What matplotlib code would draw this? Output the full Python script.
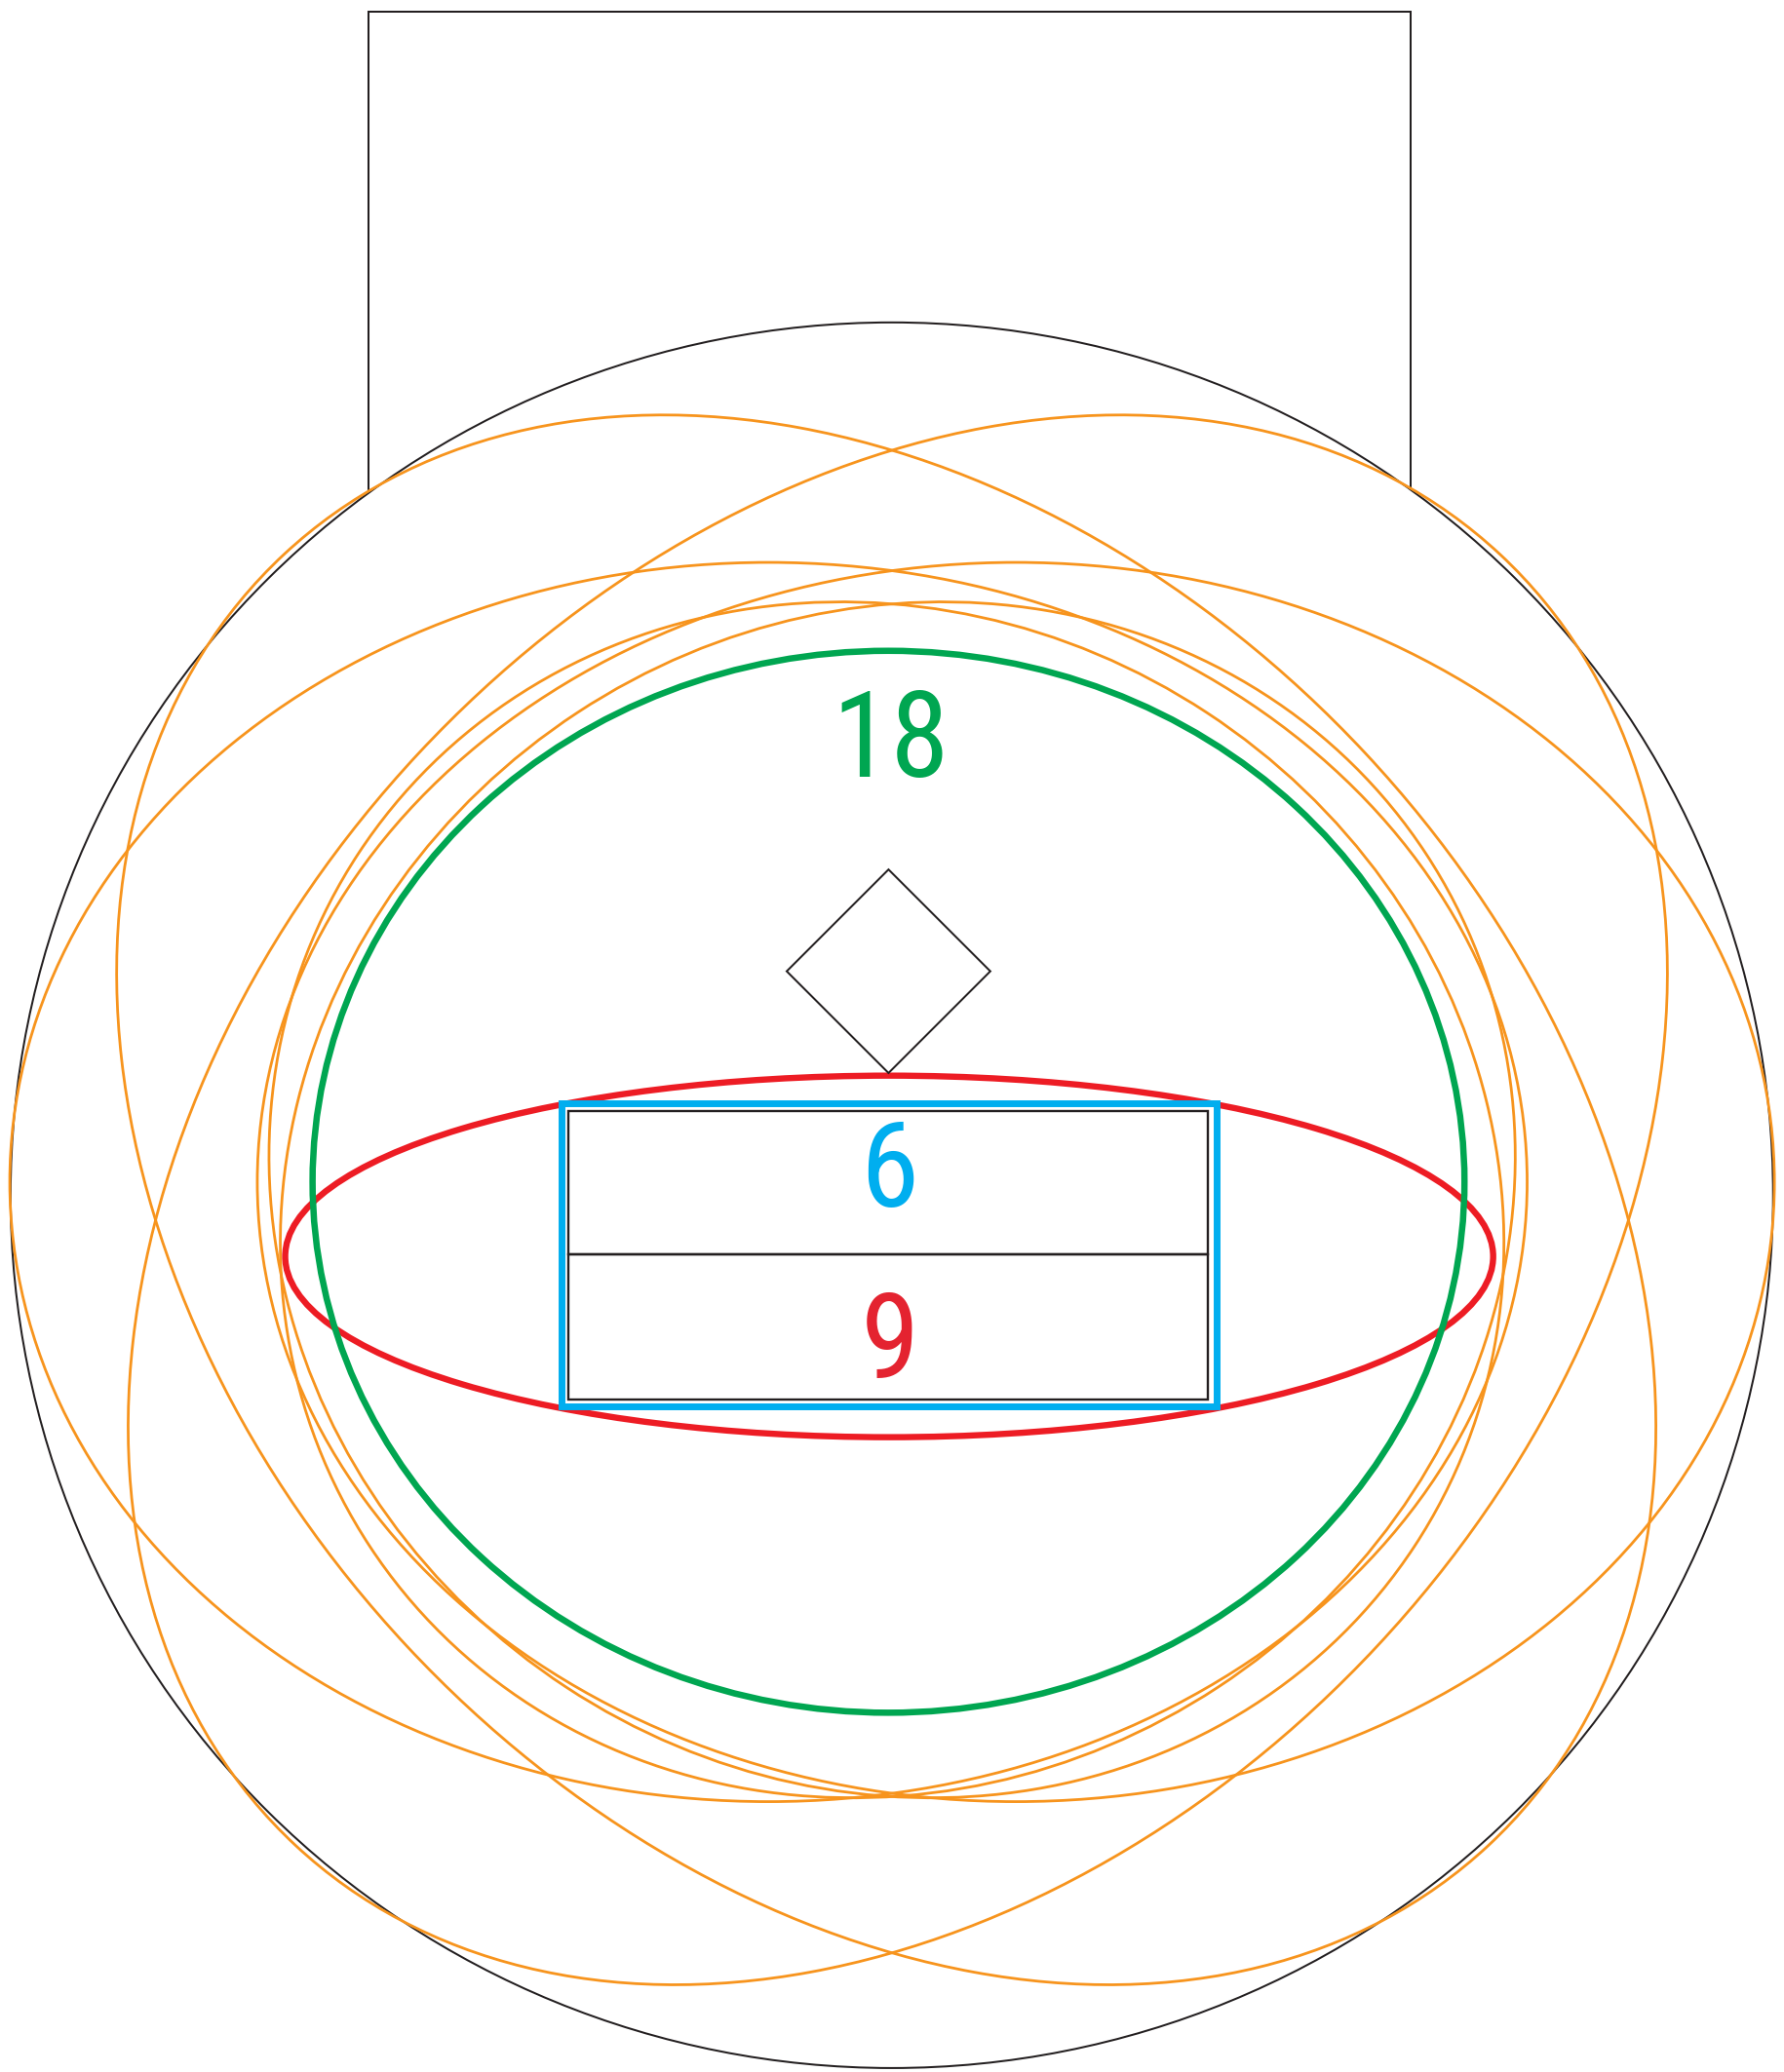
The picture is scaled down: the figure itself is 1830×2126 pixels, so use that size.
import matplotlib
matplotlib.use("Agg")
import matplotlib.pyplot as plt
from matplotlib.patches import Ellipse, Rectangle, Polygon
from matplotlib import font_manager

### geometry (units = pixels of the 1350x1568 preview)

# black frame on top and big black circle
frame_x = [279, 1067]
frame_top = 9
circle_center = (674.5, 904.5)
circle_axes = (666.5, 660.5)

# orange ellipses: centre x, centre y, semi-axis a, semi-axis b, angle (deg)
orange_cx = [670.3, 679.0, 581.2, 768.3, 670.45, 679.0]
orange_cy = [908.0, 908.0, 894.5, 894.5, 908.0, 908.0]
orange_a = [667.9, 667.9, 573.8, 573.7, 477.7, 477.7]
orange_b = [495.5, 495.5, 468.9, 468.9, 441.2, 441.2]
orange_ang = [47.0, -47.0, 0.0, 0.0, 33.3, -33.3]

# green and red ellipses
green_ell = (672.0, 894.3, 435.6, 401.8)
red_ell = (672.5, 950.8, 456.8, 136.8)

# blue box and the two black boxes inside it
blue_box = (424.9, 834.6, 920.1, 1064.2)
black_box_x = [430.1, 913.5]
black_box_y = [840.5, 949.4, 1058.8]

# diamond
diamond_c = (672.0, 735.0)
diamond_r = 77.0

# labels
labels = ["18", "6", "9"]
label_x = [673.4, 672.3, 673.0]
label_y = [587.5, 913.0, 1043.0]

ORANGE = "#F7941D"
GREEN = "#00A651"
RED = "#ED1C24"
BLUE = "#00AEEF"
BLACK = "#231F20"
label_col = [GREEN, BLUE, "#E42330"]

### narrow sans for the numbers, first one that is installed
names = {f.name for f in font_manager.fontManager.ttflist}
fam = "Liberation Sans"
for cand in ["Liberation Sans Narrow", "Arial Narrow", "Roboto Condensed"]:
    if cand in names:
        fam = cand
        break

fig = plt.figure(figsize=(18.31, 21.26), dpi=100)
ax = fig.add_axes([0, 0, 1, 1])
ax.set_xlim(0, 1350)
ax.set_ylim(1568, 0)
ax.axis("off")

### frame (lower part hidden below the circle)
ax.add_patch(Rectangle((frame_x[0], frame_top), frame_x[1] - frame_x[0], 700 - frame_top,
                       facecolor="none", edgecolor=BLACK, lw=1.45, zorder=1))

### big circle
ax.add_patch(Ellipse(circle_center, 2 * circle_axes[0], 2 * circle_axes[1],
                     facecolor="white", edgecolor=BLACK, lw=1.45, zorder=2))

### orange ellipses
for cx, cy, a, b, ang in zip(orange_cx, orange_cy, orange_a, orange_b, orange_ang):
    ax.add_patch(Ellipse((cx, cy), 2 * a, 2 * b, angle=ang,
                         facecolor="none", edgecolor=ORANGE, lw=2.0, zorder=3))

### red and green
ax.add_patch(Ellipse(red_ell[:2], 2 * red_ell[2], 2 * red_ell[3],
                     facecolor="none", edgecolor=RED, lw=4.6, zorder=4))
ax.add_patch(Ellipse(green_ell[:2], 2 * green_ell[2], 2 * green_ell[3],
                     facecolor="none", edgecolor=GREEN, lw=4.7, zorder=5))

### diamond
cx, cy = diamond_c
ax.add_patch(Polygon([(cx, cy - diamond_r), (cx + diamond_r, cy), (cx, cy + diamond_r), (cx - diamond_r, cy)],
                     closed=True, facecolor="none", edgecolor=BLACK, lw=1.45, zorder=5))

### boxes
x0, y0, x1, y1 = blue_box
ax.add_patch(Rectangle((x0, y0), x1 - x0, y1 - y0, facecolor="none", edgecolor=BLUE, lw=5.0, zorder=6))
for i in range(2):
    ax.add_patch(Rectangle((black_box_x[0], black_box_y[i]), black_box_x[1] - black_box_x[0],
                           black_box_y[i + 1] - black_box_y[i],
                           facecolor="none", edgecolor=BLACK, lw=1.7, zorder=7))

### labels
for t, x, y, c in zip(labels, label_x, label_y, label_col):
    ax.text(x, y, t, color=c, fontsize=87.8, family=fam, ha="center", va="baseline", zorder=8)

plt.savefig("out.png", dpi=100)
plt.close()
